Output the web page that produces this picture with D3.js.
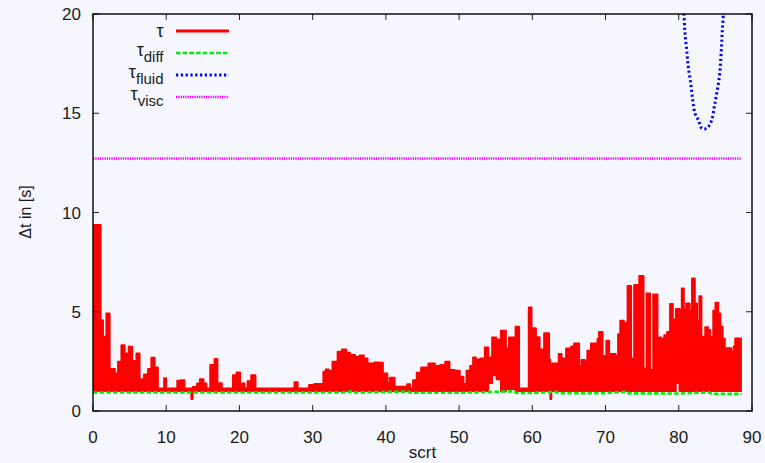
<!DOCTYPE html>
<html>
<head>
<meta charset="utf-8">
<script src="https://cdn.jsdelivr.net/npm/d3@7/dist/d3.min.js"></script>
<style>
  html, body { margin: 0; padding: 0; background: #f5f6fe; }
  svg { display: block; font-family: "Liberation Sans", Arial, Helvetica, sans-serif; }
</style>
</head>
<body>
<svg id="chart" width="765" height="463"></svg>
<script>
// Time step τ (min/max envelope per scrt interval, step after each start)
const tauStart = [0.0, 0.12, 1.05, 1.37, 1.82, 2.28, 2.46, 3.0, 3.41, 3.87, 4.33, 4.87, 5.37, 5.92, 6.37, 6.96, 7.51, 7.96, 8.42, 8.87,
  9.7, 10.0, 11.5, 11.96, 12.5, 13.42, 13.62, 14.2, 14.6, 15.1, 15.5, 16.0, 16.6, 17.0, 17.6, 19.1, 19.6, 20.1, 20.7, 21.1,
  21.6, 22.2, 27.5, 27.96, 29.5, 30.0, 30.2, 31.45, 31.8, 32.2, 32.7, 33.4, 34.0, 34.6, 35.1, 35.8, 36.4, 37.0, 37.5, 38.4,
  39.1, 39.6, 40.2, 40.5, 41.2, 42.9, 43.3, 43.7, 44.2, 44.8, 45.8, 46.7, 47.4, 48.1, 48.7, 49.4, 50.1, 50.6, 51.0, 51.5,
  51.9, 52.3, 52.9, 53.5, 54.0, 54.5, 55.1, 55.7, 56.4, 56.8, 57.7, 58.2, 59.5, 59.9, 60.5, 61.0, 61.6, 62.3, 62.45, 62.6,
  63.6, 64.0, 64.6, 65.3, 65.7, 66.4, 66.7, 67.2, 67.5, 68.0, 68.9, 69.1, 69.6, 70.1, 70.5, 71.4, 71.7, 72.0, 72.5, 73.0,
  73.5, 73.9, 74.4, 74.6, 75.2, 75.6, 76.1, 76.5, 77.1, 77.6, 78.0, 78.4, 78.8, 79.2, 79.6, 80.1, 80.4, 80.7, 81.0, 81.5,
  81.8, 82.2, 82.5, 82.8, 83.1, 83.6, 84.0, 84.3, 84.7, 85.0, 85.4, 85.7, 86.0, 86.3, 87.2, 87.5, 87.7, 88.5];
const tauMax = [1.0, 9.37, 4.58, 3.74, 4.92, 1.81, 2.12, 1.9, 2.48, 3.32, 2.9, 3.24, 2.53, 2.9, 1.61, 1.85, 2.12, 2.69, 2.2, 1.14,
  1.65, 1.14, 1.53, 1.56, 1.14, 1.14, 1.22, 1.39, 1.61, 1.39, 1.14, 2.32, 2.62, 1.4, 1.14, 1.81, 1.95, 1.39, 1.14, 1.5,
  1.81, 1.14, 1.45, 1.14, 1.32, 1.14, 1.36, 1.98, 2.1, 2.03, 2.48, 2.99, 3.1, 2.94, 2.82, 2.74, 2.8, 2.65, 2.4, 2.45,
  2.43, 1.9, 1.43, 1.68, 1.23, 1.35, 1.14, 1.56, 1.93, 2.2, 2.4, 2.27, 2.32, 2.49, 2.07, 2.03, 1.73, 1.36, 2.03, 2.27,
  2.7, 2.6, 2.65, 3.21, 2.7, 3.71, 3.61, 4.05, 3.15, 3.71, 4.25, 1.14, 5.22, 4.17, 3.72, 3.1, 3.92, 2.6, 2.4, 2.4,
  2.88, 2.65, 3.15, 3.26, 3.4, 2.27, 2.57, 2.49, 3.04, 3.4, 3.65, 3.99, 2.77, 3.55, 2.88, 2.74, 3.87, 4.55, 4.45, 6.3,
  2.65, 6.35, 1.9, 6.8, 2.15, 5.93, 2.07, 5.88, 3.71, 3.65, 3.82, 3.99, 5.39, 4.62, 5.14, 5.1, 6.18, 5.1, 5.42, 5.05,
  6.68, 5.42, 4.55, 5.79, 3.75, 4.22, 4.08, 3.75, 5.05, 5.46, 4.92, 4.25, 3.65, 3.16, 2.99, 3.27, 3.66, 3.66];
const tauMin = [1.0, 1.0, 1.0, 1.0, 1.0, 1.0, 1.0, 1.0, 1.0, 1.0, 1.0, 1.0, 1.0, 1.0, 1.0, 1.0, 1.0, 1.0, 1.0, 1.0,
  1.0, 1.0, 1.0, 1.0, 1.0, 0.6, 1.0, 1.0, 1.0, 1.0, 1.0, 1.0, 1.0, 1.0, 1.0, 1.0, 1.0, 1.0, 1.0, 1.0,
  1.0, 1.0, 1.0, 1.0, 1.0, 1.0, 1.0, 1.0, 1.0, 1.0, 1.0, 1.0, 1.0, 1.0, 1.0, 1.0, 1.0, 1.0, 1.0, 1.0,
  1.0, 1.0, 1.0, 1.0, 1.0, 1.0, 1.0, 1.0, 1.0, 1.0, 1.0, 1.0, 1.0, 1.0, 1.0, 1.0, 1.0, 1.0, 1.0, 1.0,
  1.0, 1.0, 1.0, 1.0, 1.4, 1.8, 1.6, 1.0, 1.1, 1.1, 1.0, 1.0, 1.0, 1.0, 1.0, 1.0, 1.0, 1.0, 0.6, 1.0,
  1.0, 1.0, 1.0, 1.0, 1.0, 1.0, 1.0, 1.0, 1.0, 1.0, 1.5, 1.0, 1.0, 1.0, 1.0, 1.0, 1.0, 1.0, 1.0, 1.0,
  1.0, 1.0, 1.0, 1.0, 1.0, 1.0, 1.0, 1.0, 1.0, 1.0, 1.0, 1.0, 1.0, 1.0, 1.4, 1.0, 1.0, 1.0, 1.0, 1.0,
  1.0, 1.0, 1.0, 1.0, 1.0, 1.0, 1.0, 1.0, 1.0, 1.0, 1.0, 1.0, 1.0, 1.0, 1.0, 1.0, 1.0, 1.0];

// Diffusion time step τ_diff
const diffX = [0.0, 34.0, 35.2, 35.6, 43.0, 43.4, 50.0, 57.4, 57.8, 60.0, 63.2, 63.6, 70.0, 72.8, 73.2, 75.5, 80.0, 84.1, 84.5, 88.6];
const diffY = [0.93, 0.93, 0.99, 0.93, 0.98, 0.92, 0.92, 0.99, 0.91, 0.91, 0.97, 0.9, 0.9, 0.97, 0.89, 0.89, 0.88, 0.94, 0.87, 0.86];

// Fluid time step τ_fluid (only visible near scrt 80–86)
const fluidX = [80.45, 80.72, 80.85, 81.08, 81.30, 81.63, 81.90, 82.21, 82.67, 83.13, 83.5, 84.03, 84.50, 84.85, 85.18, 85.54, 85.73, 85.86, 85.95, 86.08, 86.2];
const fluidY = [21.0, 19.86, 19.03, 18.19, 17.34, 16.51, 15.67, 15.0, 14.66, 14.24, 14.2, 14.32, 14.66, 15.33, 16.0, 16.84, 17.68, 18.52, 19.19, 19.95, 21.0];

// Viscous time step τ_visc
const viscX = [0.0, 88.6];
const viscY = [12.72, 12.72];

const xTicks = [0, 10, 20, 30, 40, 50, 60, 70, 80, 90];
const yTicks = [0, 5, 10, 15, 20];

const svg = d3.select("#chart");
const pL = 93, pR = 752, pT = 14, pB = 411;

const x = d3.scaleLinear().domain([0, 90]).range([pL, pR]);
const y = d3.scaleLinear().domain([0, 20]).range([pB, pT]);

svg.append("defs").append("clipPath").attr("id", "plotclip")
  .append("rect").attr("x", pL).attr("y", pT).attr("width", pR - pL).attr("height", pB - pT);

const plot = svg.append("g").attr("clip-path", "url(#plotclip)");

// τ as a filled envelope of the fast-oscillating step size
const tauData = tauStart.map((s, i) => ({ s, hi: tauMax[i], lo: tauMin[i] }));
const tauArea = d3.area()
  .x(d => x(d.s)).y0(d => y(d.lo)).y1(d => y(d.hi))
  .curve(d3.curveStepAfter);
plot.append("path").datum(tauData)
  .attr("d", tauArea)
  .attr("fill", "#ff0000")
  .attr("stroke", "#ff0000")
  .attr("stroke-width", 1.8)
  .attr("stroke-linejoin", "round");

const line = d3.line().x(d => x(d[0])).y(d => y(d[1]));

plot.append("path").datum(diffX.map((v, i) => [v, diffY[i]]))
  .attr("d", line).attr("fill", "none")
  .attr("stroke", "#00ee00").attr("stroke-width", 2.6)
  .attr("stroke-dasharray", "4.5,2.2");

plot.append("path").datum(fluidX.map((v, i) => [v, fluidY[i]]))
  .attr("d", d3.line().x(d => x(d[0])).y(d => y(d[1])).curve(d3.curveCatmullRom)).attr("fill", "none")
  .attr("stroke", "#0000ff").attr("stroke-width", 3)
  .attr("stroke-dasharray", "2.2,2.6");

plot.append("path").datum(viscX.map((v, i) => [v, viscY[i]]))
  .attr("d", line).attr("fill", "none")
  .attr("stroke", "#ff00ff").attr("stroke-width", 2.6)
  .attr("stroke-dasharray", "1.3,1");

// Frame with mirrored inward ticks
const axisColor = "#222";
const tickLen = 6;
const ax = svg.append("g").attr("stroke", axisColor).attr("stroke-width", 1);
xTicks.forEach(t => {
  ax.append("line").attr("x1", x(t)).attr("x2", x(t)).attr("y1", pB).attr("y2", pB - tickLen);
  ax.append("line").attr("x1", x(t)).attr("x2", x(t)).attr("y1", pT).attr("y2", pT + tickLen);
});
yTicks.forEach(t => {
  ax.append("line").attr("x1", pL).attr("x2", pL + tickLen).attr("y1", y(t)).attr("y2", y(t));
  ax.append("line").attr("x1", pR).attr("x2", pR - tickLen).attr("y1", y(t)).attr("y2", y(t));
});
svg.append("rect").attr("x", pL).attr("y", pT).attr("width", pR - pL).attr("height", pB - pT)
  .attr("fill", "none").attr("stroke", "#000").attr("stroke-width", 1.4);

const txt = "#1a1a1a";
svg.append("g").selectAll("text").data(xTicks).join("text")
  .attr("x", d => x(d)).attr("y", 443).attr("text-anchor", "middle")
  .attr("font-size", 17).attr("fill", txt).text(d => d);
svg.append("g").selectAll("text").data(yTicks).join("text")
  .attr("x", 81).attr("y", d => y(d) + 6).attr("text-anchor", "end")
  .attr("font-size", 17).attr("fill", txt).text(d => d);

svg.append("text").attr("x", (pL + pR) / 2).attr("y", 458).attr("text-anchor", "middle")
  .attr("font-size", 17).attr("fill", txt).text("scrt");
svg.append("text").attr("transform", "translate(31,212) rotate(-90)").attr("text-anchor", "middle")
  .attr("font-size", 16).attr("fill", txt).text("Δt in [s]");

// Legend
const legend = [
  { sub: "", color: "#ff0000", dash: null, width: 3.2, ly: 31 },
  { sub: "diff", color: "#00ee00", dash: "4.5,2.2", width: 2.6, ly: 53 },
  { sub: "fluid", color: "#0000ff", dash: "2.2,2.6", width: 2.8, ly: 75 },
  { sub: "visc", color: "#ff00ff", dash: "1.3,1", width: 2.6, ly: 97 }
];
const lg = svg.append("g");
legend.forEach(e => {
  const t = lg.append("text").attr("x", 163.5).attr("text-anchor", "end")
    .attr("y", e.sub ? e.ly + 2.5 : e.ly + 5.5).attr("fill", txt);
  t.append("tspan").attr("font-size", 18).text("τ");
  if (e.sub) t.append("tspan").attr("font-size", 15).attr("dy", 6).text(e.sub);
  lg.append("line").attr("x1", 176).attr("x2", 229).attr("y1", e.ly).attr("y2", e.ly)
    .attr("stroke", e.color).attr("stroke-width", e.width)
    .attr("stroke-dasharray", e.dash);
});
</script>
</body>
</html>
